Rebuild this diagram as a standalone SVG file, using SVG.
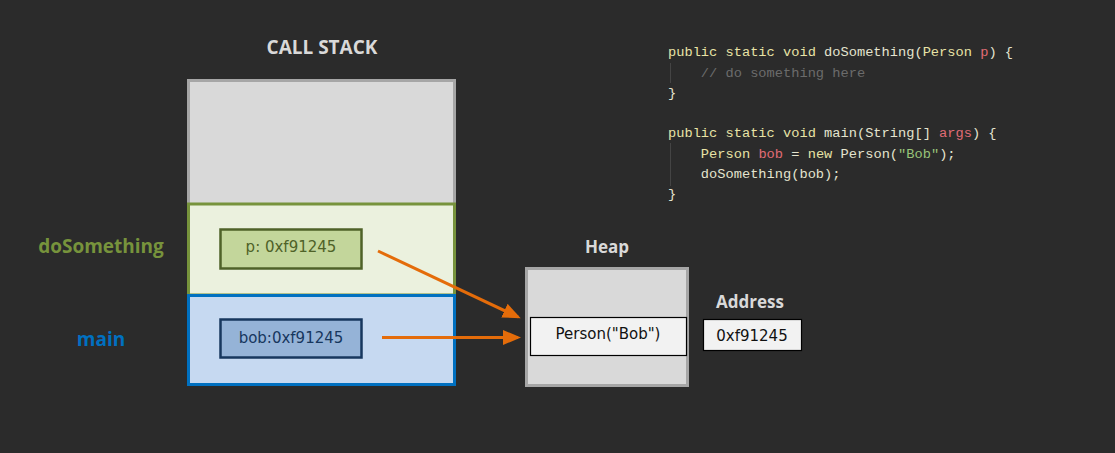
<svg xmlns="http://www.w3.org/2000/svg" width="1115" height="453" viewBox="0 0 1115 453">
<style>
.title{font-family:"Open Sans","DejaVu Sans",sans-serif;font-weight:bold;font-size:17px;fill:#d9d9d9;text-anchor:middle}
.frame{font-family:"Open Sans","DejaVu Sans",sans-serif;font-weight:bold;font-size:19px;text-anchor:middle}
.val{font-family:"DejaVu Sans",Verdana,sans-serif;font-size:15px;text-anchor:middle;dominant-baseline:central}
.code{font-family:"Liberation Mono",monospace;font-size:13.7px;fill:#e4e4cf;white-space:pre}
.kw{fill:#e8e3a6}.id{fill:#e06c75}.cm{fill:#6b6b6b}.st{fill:#98c379}
.conn{stroke:#e46c0a;stroke-width:3;fill:none;marker-end:url(#ah)}
</style>
<defs>
<marker id="ah" markerWidth="6" markerHeight="6" refX="5" refY="3" orient="auto" markerUnits="strokeWidth">
<path d="M0,0.5 L6,3 L0,5.5 Z" fill="#e46c0a"/>
</marker>
</defs>
<rect width="1115" height="453" fill="#2b2b2b"/>
<g id="callstack">
<text class="title" x="322" y="54" style="font-size:19px">CALL STACK</text>
<rect x="188.5" y="80.5" width="266" height="124" fill="#d9d9d9" stroke="#a6a6a6" stroke-width="3"/>
</g>
<g id="doSomething-frame">
<rect x="188.5" y="204" width="266" height="91" fill="#ebf1de" stroke="#77933c" stroke-width="3"/>
<text class="frame" x="101" y="253" fill="#77933c">doSomething</text>
</g>
<g id="main-frame">
<rect x="188.5" y="295.5" width="266" height="89" fill="#c6d9f1" stroke="#0070c0" stroke-width="3"/>
<text class="frame" x="101" y="346" fill="#0070c0">main</text>
</g>
<g id="p-var">
<rect x="220.5" y="229.5" width="141" height="39" fill="#c3d69b" stroke="#4f6228" stroke-width="2.5"/>
<text class="val" x="291" y="247" fill="#4f6228">p: 0xf91245</text>
</g>
<g id="bob-var">
<rect x="220.5" y="319.5" width="141" height="38" fill="#95b3d7" stroke="#17375e" stroke-width="2.5"/>
<text class="val" x="291" y="338" fill="#17375e">bob:0xf91245</text>
</g>
<g id="heap">
<text class="title" x="607" y="253">Heap</text>
<rect x="526.5" y="268.5" width="161" height="117" fill="#d9d9d9" stroke="#a6a6a6" stroke-width="3"/>
</g>
<g id="person">
<rect x="530.5" y="317.5" width="156" height="38" fill="#f2f2f2" stroke="#000" stroke-width="1.2"/>
<text class="val" x="608" y="334" fill="#111">Person("Bob")</text>
</g>
<g id="address">
<text class="title" x="750" y="308">Address</text>
<rect x="703.5" y="319.5" width="98" height="31" fill="#f2f2f2" stroke="#000" stroke-width="1.2"/>
<text class="val" x="752" y="336" fill="#111">0xf91245</text>
</g>
<g id="connectors">
<path class="conn" d="M378,251 L518,317"/>
<path class="conn" d="M382,337.5 L518,337.5"/>
</g>
<g id="code">
<line x1="670.5" y1="63" x2="670.5" y2="83" stroke="#444" stroke-width="1"/>
<line x1="670.5" y1="143" x2="670.5" y2="186" stroke="#444" stroke-width="1"/>
<text class="code" x="668" y="56"><tspan class="kw">public static void</tspan> doSomething(<tspan class="kw">Person</tspan> <tspan class="id">p</tspan>) {</text>
<text class="code" x="668" y="77"><tspan class="cm">    // do something here</tspan></text>
<text class="code" x="668" y="97">}</text>
<text class="code" x="668" y="137"><tspan class="kw">public static void</tspan> main(String[] <tspan class="id">args</tspan>) {</text>
<text class="code" x="668" y="158">    <tspan class="kw">Person</tspan> <tspan class="id">bob</tspan> = <tspan class="kw">new</tspan> Person(<tspan class="st">"Bob"</tspan>);</text>
<text class="code" x="668" y="178">    doSomething(bob);</text>
<text class="code" x="668" y="198">}</text>
</g>
</svg>
